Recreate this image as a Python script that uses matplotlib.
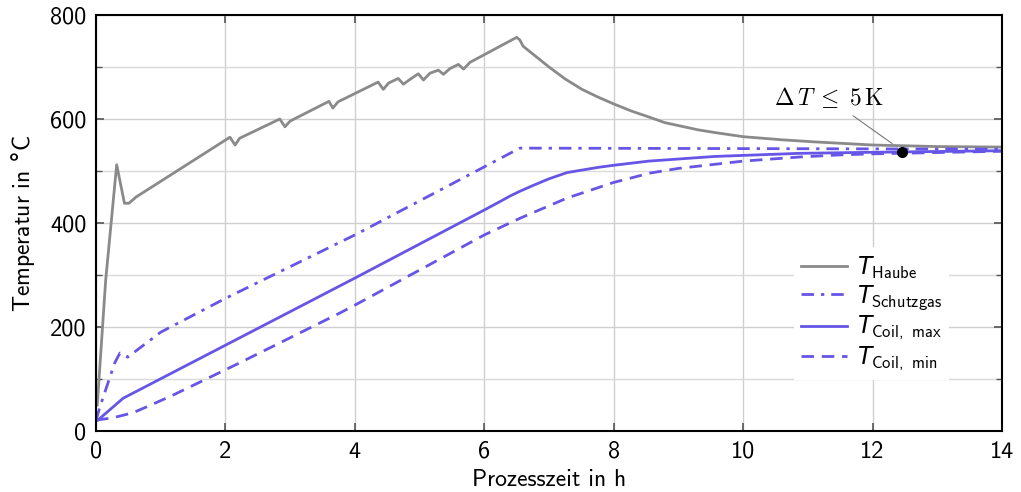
import matplotlib
matplotlib.use("Agg")
import matplotlib.pyplot as plt
from matplotlib.ticker import MultipleLocator

# ---- data ----
t_haube = [0.02, 0.15, 0.32, 0.44, 0.51, 0.62, 2.07, 2.15, 2.22, 2.84, 2.92, 3.0,
           3.6, 3.66, 3.74, 4.36, 4.44, 4.52, 4.67, 4.75, 4.85, 4.98, 5.06, 5.16,
           5.29, 5.37, 5.47, 5.60, 5.68, 5.78, 6.50, 6.55, 6.60, 6.78, 6.99, 7.25,
           7.51, 7.76, 8.0, 8.28, 8.54, 8.79, 9.05, 9.31, 9.56, 10.0, 10.6, 11.1,
           12.0, 13.0, 14.0]
T_haube = [50, 290, 512, 438, 438, 450, 565, 550, 563, 600, 585, 596,
           634, 621, 633, 671, 657, 669, 678, 667, 676, 687, 675, 688,
           694, 686, 697, 705, 696, 709, 757, 752, 740, 722, 701, 677,
           657, 642, 629, 615, 604, 593, 586, 579, 574, 566, 560, 556,
           550, 547, 546]

t_schutz = [0.0, 0.06, 0.29, 0.37, 0.49, 1.0, 2.0, 4.0, 6.0, 6.55, 14.0]
T_schutz = [20, 46, 131, 150, 142, 190, 255, 377, 508, 544, 542]

t_cmax = [0.03, 0.42, 4.0, 6.0, 6.24, 6.4, 6.55, 6.75, 7.0, 7.28, 7.76, 8.0,
          8.54, 9.56, 10.0, 10.88, 12.0, 14.0]
T_cmax = [21, 63, 294, 425, 441, 452, 461, 472, 485, 497, 507, 511,
          519, 528, 530, 534, 536, 539]

t_cmin = [0.0, 0.25, 0.57, 0.85, 1.19, 2.22, 3.77, 4.0, 6.0, 6.55, 7.28, 8.0,
          8.56, 9.0, 9.5, 10.0, 10.88, 11.5, 12.0, 14.0]
T_cmin = [21, 25, 35, 50, 69, 131, 227, 242, 377, 409, 448, 478,
          496, 505, 512, 519, 527, 531, 533, 538]

marker_t, marker_T = 12.45, 536
leader_t = [11.7, 12.3]
leader_T = [606, 553]
annot_pos = (11.33, 642)
annot_text = r'$\Delta\,T\;\leq\;5\,\mathrm{K}$'
xlabel = 'Prozesszeit in h'
ylabel = r'Temperatur in $\mathsf{°}$C'
labels = [r'$T_{\mathrm{Haube}}$', r'$T_{\mathrm{Schutzgas}}$',
          r'$T_{\mathrm{Coil,\ max}}$', r'$T_{\mathrm{Coil,\ min}}$']

# ---- style ----
plt.rcParams['font.family'] = ['cmss10', 'DejaVu Sans']
plt.rcParams['mathtext.fontset'] = 'custom'
plt.rcParams['mathtext.rm'] = 'cmss10'
plt.rcParams['mathtext.sf'] = 'DejaVu Sans'
plt.rcParams['mathtext.it'] = 'DejaVu Sans:italic'
plt.rcParams['axes.unicode_minus'] = False

gray = '#8a8a8a'
blue = '#6655e6'

fig = plt.figure(figsize=(10.21, 4.92), dpi=100)
ax = fig.add_axes([0.094, 0.124, 0.9814 - 0.094, 0.9695 - 0.124])

l1, = ax.plot(t_haube, T_haube, color=gray, lw=2.0, solid_joinstyle='round')
l2, = ax.plot(t_schutz, T_schutz, color=blue, lw=2.0, dashes=(4.5, 2.5, 1.2, 2.5))
l3, = ax.plot(t_cmax, T_cmax, color=blue, lw=2.0)
l4, = ax.plot(t_cmin, T_cmin, color=blue, lw=2.0, dashes=(4.5, 2.8))

ax.plot(leader_t, leader_T, color='#777777', lw=0.8, zorder=4)
ax.plot([marker_t], [marker_T], 'o', color='black', ms=7, zorder=5)
ax.text(annot_pos[0], annot_pos[1], annot_text, fontsize=17,
        math_fontfamily='cm', ha='center', va='center')

ax.set_xlim(0, 14)
ax.set_ylim(0, 800)
ax.xaxis.set_major_locator(MultipleLocator(2))
ax.yaxis.set_major_locator(MultipleLocator(200))
ax.yaxis.set_minor_locator(MultipleLocator(100))
ax.grid(True, which='major', color='#cfcfcf', lw=1.0)
ax.grid(True, which='minor', axis='y', color='#dadada', lw=1.0)
ax.set_axisbelow(True)
ax.tick_params(which='both', direction='in', top=True, right=True,
               labelsize=17.5, color='#555555')
ax.tick_params(axis='x', which='both', pad=7)
ax.tick_params(axis='y', which='both', pad=7)
ax.tick_params(which='major', length=6, width=1.2)
ax.tick_params(which='minor', length=4, width=1.0)
for s in ax.spines.values():
    s.set_linewidth(1.5)
    s.set_color('black')

ax.set_xlabel(xlabel, fontsize=17, labelpad=4.5)
ax.set_ylabel(ylabel, fontsize=17, labelpad=9)

leg = ax.legend([l1, l2, l3, l4], labels, loc='upper left',
                bbox_to_anchor=(0.757, 0.47), fontsize=17, frameon=True,
                fancybox=False, framealpha=1, edgecolor='none',
                handlelength=1.95, handletextpad=0.42, labelspacing=0.1,
                borderpad=0.3)

fig.savefig('out.png', dpi=100)
